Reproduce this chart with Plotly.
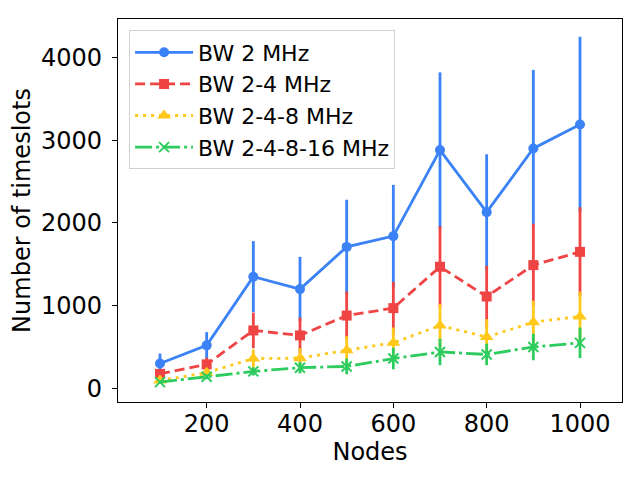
import plotly.graph_objects as go

# Nodes on the x axis
nodes = [100, 200, 300, 400, 500, 600, 700, 800, 900, 1000]

# Mean number of timeslots per bandwidth configuration
bw_2 = [300, 520, 1350, 1200, 1710, 1840, 2880, 2130, 2900, 3190]
bw_2_4 = [175, 290, 700, 640, 880, 970, 1470, 1110, 1490, 1650]
bw_2_4_8 = [95, 190, 360, 365, 460, 550, 760, 620, 800, 870]
bw_2_4_8_16 = [75, 140, 205, 250, 265, 360, 440, 410, 500, 550]

# Standard deviations (error bars)
err_2 = [120, 160, 430, 390, 570, 620, 940, 700, 950, 1060]
err_2_4 = [50, 80, 215, 215, 290, 315, 490, 370, 500, 540]
err_2_4_8 = [30, 50, 110, 120, 170, 185, 260, 215, 260, 300]
err_2_4_8_16 = [20, 30, 50, 70, 95, 130, 160, 130, 160, 185]

names = ['BW 2 MHz', 'BW 2-4 MHz', 'BW 2-4-8 MHz', 'BW 2-4-8-16 MHz']
series = [bw_2, bw_2_4, bw_2_4_8, bw_2_4_8_16]
errors = [err_2, err_2_4, err_2_4_8, err_2_4_8_16]
colors = ['#3B82F6', '#EF4444', '#FFC81A', '#2ECC5E']
dashes = ['solid', '10px,5px', '3px,5px', '17px,4px,3px,4px']
symbols = ['circle', 'square', 'triangle-up', 'x-thin']
sizes = [10, 10, 12, 10]

fig = go.Figure()
for name, y, err, col, dash, sym, sz in zip(names, series, errors, colors, dashes, symbols, sizes):
    fig.add_trace(go.Scatter(
        x=nodes, y=y, name=name, mode='lines+markers',
        line=dict(color=col, width=2.8, dash=dash),
        marker=dict(symbol=sym, size=sz, color=col,
                    line=dict(color=col, width=2 if sym == 'x-thin' else 0)),
        error_y=dict(type='data', array=err, visible=True,
                     color=col, thickness=2.8, width=0),
    ))

axis_font = dict(family='DejaVu Sans', size=24, color='black')

# page body has an 8px margin, so the figure is a bit smaller than the window
fig.update_layout(
    width=624, height=464,
    margin=dict(l=110, r=10, t=11, b=70),
    plot_bgcolor='white', paper_bgcolor='white',
    font=axis_font,
    legend=dict(x=0.022, y=0.97, xanchor='left', yanchor='top',
                bgcolor='rgba(255,255,255,0.8)', bordercolor='#d0d0d0',
                borderwidth=1, font=dict(family='DejaVu Sans', size=22),
                itemwidth=58),
)
fig.update_xaxes(
    title=dict(text='Nodes', font=axis_font, standoff=0),
    range=[10, 1090], tickmode='linear', tick0=0, dtick=200,
    showgrid=False, zeroline=False, showline=True, mirror=True,
    linecolor='black', linewidth=1.2, ticks='outside', ticklen=5,
    tickcolor='black', tickfont=axis_font, automargin=False,
    ticklabelstandoff=-5,
)
fig.update_yaxes(
    title=dict(text='Number of timeslots', font=axis_font, standoff=8),
    range=[-165, 4465], tickmode='linear', tick0=0, dtick=1000,
    showgrid=False, zeroline=False, showline=True, mirror=True,
    linecolor='black', linewidth=1.2, ticks='outside', ticklen=5,
    tickcolor='black', tickfont=axis_font, automargin=False,
    ticklabelstandoff=5,
)

fig.write_html('out.html')
